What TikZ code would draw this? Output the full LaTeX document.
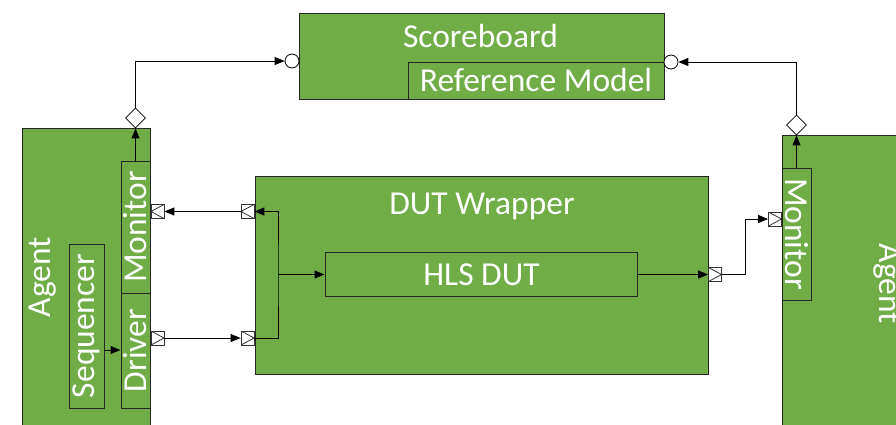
\documentclass[tikz,border=0pt]{standalone}
\usepackage{fontspec}
\setmainfont{Carlito}
\usetikzlibrary{arrows.meta,shapes.geometric}
\definecolor{grn}{HTML}{70AD47}
\begin{document}
\begin{tikzpicture}[x=1pt,y=-1pt,
  box/.style={draw=black!85,fill=grn,line width=1pt,rectangle,inner sep=0pt},
  lbl/.style={text=white,font=\fontsize{33.5}{37}\selectfont,inner sep=0pt},
  portl/.style={draw=black!80,fill=white,line width=0.8pt,rectangle,inner sep=0pt,minimum width=13pt,minimum height=14pt,
    path picture={\draw[line width=0.8pt] (path picture bounding box.north east)--(path picture bounding box.west)--(path picture bounding box.south east);}},
  portr/.style={draw=black!80,fill=white,line width=0.8pt,rectangle,inner sep=0pt,minimum width=13pt,minimum height=14pt,
    path picture={\draw[line width=0.8pt] (path picture bounding box.north west)--(path picture bounding box.east)--(path picture bounding box.south west);}},
  conn/.style={line width=1pt,-{Triangle[length=10pt,width=8pt]}},
  dia/.style={diamond,draw,fill=white,line width=0.8pt,inner sep=0pt,minimum width=20pt,minimum height=20pt},
  circ/.style={circle,draw,fill=white,line width=0.8pt,inner sep=0pt,minimum size=14pt}]
\useasboundingbox (0,0) rectangle (896,424);
\clip (0,0) rectangle (896,424);
\fill[white] (0,0) rectangle (896,424);
% Scoreboard
\node[box,minimum width=365pt,minimum height=86pt] (sb) at (481.5,56) {};
\node[lbl,anchor=base] (sbt) at (480.5,47.5) {Scoreboard};
\node[box,minimum width=256pt,minimum height=37pt] (rm) at (536,80.5) {};
\node[lbl,anchor=base] (rmt) at (536,91) {Reference Model};
% Left agent
\node[box,minimum width=128pt,minimum height=302pt] (agL) at (86,279) {};
\node[lbl,rotate=90] (agLt) at (43,277) {Agent};
\node[box,minimum width=29pt,minimum height=132pt] (lmon) at (135.5,227) {};
\node[lbl,rotate=90] (lmont) at (135.5,227) {Monitor};
\node[box,minimum width=29pt,minimum height=115pt] (ldrv) at (135.5,350.5) {};
\node[lbl,rotate=90] (ldrvt) at (135.5,350.5) {Driver};
\node[box,minimum width=35pt,minimum height=164pt] (lseq) at (86.5,326) {};
\node[lbl,rotate=90] (lseqt) at (86.5,326) {Sequencer};
% Right agent
\node[box,minimum width=118pt,minimum height=295pt] (agR) at (841,282.5) {};
\node[lbl,rotate=-90] (agRt) at (887,284) {Agent};
\node[box,minimum width=29pt,minimum height=132pt] (rmon) at (796.5,234) {};
\node[lbl,rotate=-90] (rmont) at (796.5,234) {Monitor};
% DUT wrapper
\node[box,minimum width=453pt,minimum height=198pt] (wr) at (481.5,275) {};
\node[lbl,anchor=base] (wrt) at (482,214) {DUT Wrapper};
\node[box,minimum width=312pt,minimum height=44pt] (hls) at (481,274.5) {};
\node[lbl,anchor=base] (hlst) at (481.5,285.5) {HLS DUT};
% ports
\node[portl] (pLM) at (157.5,211.5) {};
\node[portr] (pLD) at (157.5,338) {};
\node[portl] (pW1) at (247.5,211.5) {};
\node[portr] (pW2) at (247.5,338) {};
\node[portr] (pWO) at (715,274.5) {};
\node[portr] (pRM) at (775,219) {};
% diamonds and circles
\node[dia] (dL) at (135.5,118) {};
\node[dia] (dR) at (796.5,125) {};
\node[circ] (cL) at (292,61) {};
\node[circ] (cR) at (671,62) {};
\coordinate (j) at (278,274.5);
\coordinate (k) at (745,274.5);
% connectors
\draw[conn] (pW1.west) -- (pLM.east);
\draw[conn] (pLD.east) -- (pW2.west);
\draw[conn] (pW2.east) -| (j) |- (pW1.east);
\draw[conn] (j) -- (hls.west);
\draw[conn] (hls.east) -- (pWO.west);
\draw[conn] (pWO.east) -- (k) |- (pRM.west);
\draw[conn] (lseq.east |- 0,350) -- (ldrv.west |- 0,350);
\draw[conn] (lmon.north) -- (dL.south);
\draw[conn] (rmon.north) -- (dR.south);
\draw[conn] (dL.north) |- (cL.west);
\draw[conn] (dR.north) |- (cR.east);
\end{tikzpicture}
\end{document}
